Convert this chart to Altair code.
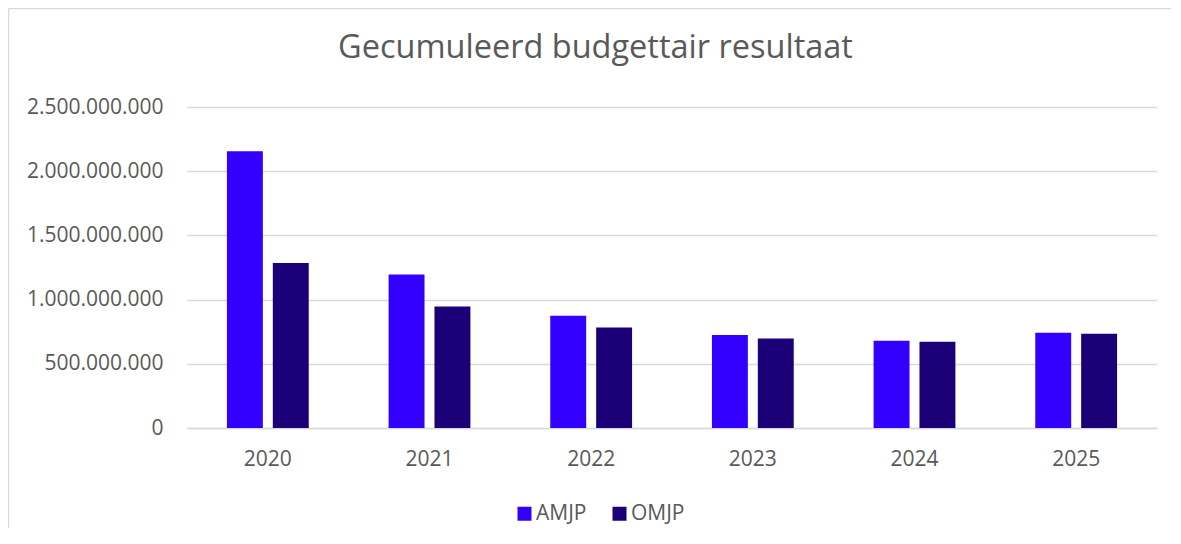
import altair as alt
import pandas as pd

years = ["2020", "2021", "2022", "2023", "2024", "2025"]
amjp = [2155e6, 1196e6, 874e6, 724e6, 679e6, 742e6]
omjp = [1286e6, 947e6, 783e6, 698e6, 672e6, 734e6]
series = ["AMJP", "OMJP"]
colors = ["#3300FF", "#1C0078"]
y_ticks = [0, 5e8, 1e9, 1.5e9, 2e9, 2.5e9]
title_text = "Gecumuleerd budgettair resultaat"

rows = []
for i, y in enumerate(years):
    rows.append({"jaar": y, "reeks": series[0], "waarde": amjp[i]})
    rows.append({"jaar": y, "reeks": series[1], "waarde": omjp[i]})
df = pd.DataFrame(rows)

FONT = "Open Sans"
TXT = "#595959"
GRID = "#D9D9D9"

bars = alt.Chart(df).mark_bar().encode(
    x=alt.X("jaar:N", sort=years,
            scale=alt.Scale(paddingInner=0.494, paddingOuter=0.247),
            axis=alt.Axis(title=None, labelAngle=0, ticks=False, domain=True,
                          domainColor=GRID, domainWidth=1.5, labelPadding=20,
                          labelFont=FONT, labelFontSize=21, labelColor=TXT)),
    xOffset=alt.XOffset("reeks:N", sort=series,
                        scale=alt.Scale(paddingInner=0.217, paddingOuter=0)),
    y=alt.Y("waarde:Q",
            scale=alt.Scale(domain=[0, 2.5e9], nice=False),
            axis=alt.Axis(title=None, values=y_ticks, ticks=False, domain=False,
                          gridColor=GRID, gridWidth=1.5, labelPadding=24,
                          labelFont=FONT, labelFontSize=21, labelColor=TXT,
                          labelExpr="replace(format(datum.value, ','), /,/g, '.')")),
    color=alt.Color("reeks:N", sort=series,
                    scale=alt.Scale(domain=series, range=colors),
                    legend=alt.Legend(title=None, orient="none", direction="horizontal",
                                      legendX=327, legendY=396,
                                      symbolType="square", symbolSize=196,
                                      symbolStrokeWidth=0, labelOffset=1,
                                      columnPadding=22,
                                      labelFont=FONT, labelFontSize=21,
                                      labelColor=TXT)),
)

frame_df = pd.DataFrame({"k": [0]})
left_border = alt.Chart(frame_df).mark_rule(color=GRID, strokeWidth=1.5).encode(
    x=alt.value(-178.5), y=alt.value(-98.5), y2=alt.value(1000))
top_border = alt.Chart(frame_df).mark_rule(color=GRID, strokeWidth=1.5).encode(
    x=alt.value(-178.5), x2=alt.value(984), y=alt.value(-98.5))

title = alt.Chart(pd.DataFrame({"t": [title_text]})).mark_text(
    font=FONT, fontSize=32.5, color=TXT, align="center", baseline="middle"
).encode(x=alt.value(408.5), y=alt.value(-59), text="t:N")

chart = alt.layer(bars, left_border, top_border, title).properties(
    width=970, height=321,
    padding={"left": 179, "top": 99, "right": 16, "bottom": 100},
    autosize=alt.AutoSizeParams(type="none"),
).configure_view(stroke=None)

chart.save("out.html", embed_options={"renderer": "svg", "actions": False})
